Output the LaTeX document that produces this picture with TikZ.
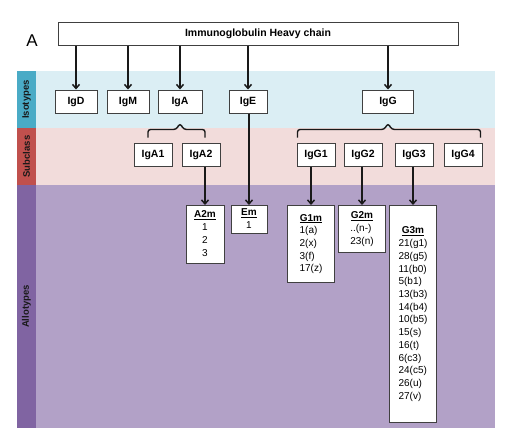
\documentclass[tikz,border=0pt]{standalone}
\usepackage{fontspec}
\setmainfont{Liberation Sans}
\usepackage{tikz}
\usetikzlibrary{arrows.meta,positioning,calc}
\definecolor{bandblue}{RGB}{219,238,244}
\definecolor{stripblue}{RGB}{74,171,198}
\definecolor{bandpink}{RGB}{242,220,219}
\definecolor{stripred}{RGB}{192,80,77}
\definecolor{bandpurple}{RGB}{178,161,199}
\definecolor{strippurple}{RGB}{128,100,162}
\definecolor{edgegray}{RGB}{64,64,64}
\newcommand{\allohead}[1]{\multicolumn{1}{@{}c@{}}{\underline{\textbf{#1}}}}
\tikzset{
  igbox/.style  ={rectangle, draw=edgegray, fill=white, line width=1pt,
                  minimum height=23pt, inner sep=2pt, font=\fontsize{10.5}{12}\selectfont\bfseries},
  allobox/.style={rectangle, draw=edgegray, fill=white, line width=1pt, anchor=north,
                  inner sep=1pt, font=\fontsize{10}{12.7}\selectfont},
  strip/.style  ={rectangle, rotate=90, minimum height=19pt, inner sep=0pt,
                  text=black!90, font=\fontsize{9.5}{11}\selectfont\bfseries},
  flow/.style   ={-{Straight Barb[length=4pt,width=7pt]}, line width=1.5pt, draw=black!90},
  bracket/.style={line width=1.4pt, draw=black!90, rounded corners=2.5pt}
}
\begin{document}
\begin{tikzpicture}[x=1pt, y=-1pt]
\useasboundingbox (0,0) rectangle (510,445);
% bands
\fill[bandblue]   (36,71)  rectangle (495,128);
\fill[bandpink]   (36,128) rectangle (495,185);
\fill[bandpurple] (36,185) rectangle (495,428);
\node[strip, fill=stripblue,   minimum width=57pt]  (lisotype) at (26.5,99.5)  {Isotypes};
\node[strip, fill=stripred,    minimum width=57pt]  (lsubclass) at (26.5,156.5) {Subclass};
\node[strip, fill=strippurple, minimum width=243pt] (lallotype) at (26.5,306.5) {Allotypes};

\node[font=\fontsize{17}{20}\selectfont] (panel) at (32,41) {A};
\node[igbox, minimum width=400pt] (heavy) at (258,33.5) {Immunoglobulin Heavy chain};

% isotypes
\node[igbox, minimum width=42pt] (IgD) at (76,101.5) {IgD};
\node[igbox, minimum width=42pt, right=9pt of IgD] (IgM) {IgM};
\node[igbox, minimum width=44pt, right=8pt of IgM] (IgA) {IgA};
\node[igbox, minimum width=38pt] (IgE) at (248,101.5) {IgE};
\node[igbox, minimum width=51pt] (IgG) at (388,101.5) {IgG};
\foreach \iso in {IgD,IgM,IgA,IgE,IgG}
  \draw[flow] (heavy.south -| \iso.north) -- (\iso.north);

% subclasses
\node[igbox, minimum width=38pt] (IgA1) at (153,154.5) {IgA1};
\node[igbox, minimum width=38pt, right=9pt of IgA1] (IgA2) {IgA2};
\node[igbox, minimum width=38pt] (IgG1) at (316,154.5) {IgG1};
\node[igbox, minimum width=38pt, right=8pt of IgG1] (IgG2) {IgG2};
\node[igbox, minimum width=38pt, right=12pt of IgG2] (IgG3) {IgG3};
\node[igbox, minimum width=38pt, right=10pt of IgG3] (IgG4) {IgG4};
\draw[bracket] ($(IgA1.north)+(-5,-5)$) |- ($(IgA.south)+(-4,16)$) -- ($(IgA.south)+(0,10)$)
  -- ($(IgA.south)+(4,16)$) -| ($(IgA2.north)+(4,-5)$);
\draw[bracket] ($(IgG1.north west)+(1,-5)$) |- ($(IgG.south)+(-4,16)$) -- ($(IgG.south)+(0,10)$)
  -- ($(IgG.south)+(4,16)$) -| ($(IgG4.north east)+(-2,-5)$);

% allotypes
\node[allobox, minimum width=38pt, minimum height=58pt] (A2m) at (205,205)
  {\begin{tabular}{@{}c@{}}\allohead{A2m}\\1\\2\\3\end{tabular}};
\node[allobox, minimum width=36pt, minimum height=28pt] (Em) at (249,205)
  {\begin{tabular}{@{}c@{}}\allohead{Em}\\1\end{tabular}};
\node[allobox, minimum width=47pt, minimum height=77pt] (G1m) at (311,205)
  {\begin{tabular}{@{}l@{}}\allohead{G1m}\\1(a)\\2(x)\\3(f)\\17(z)\end{tabular}};
\node[allobox, minimum width=47pt, minimum height=47pt] (G2m) at (362,205)
  {\begin{tabular}{@{}l@{}}\allohead{G2m}\\..(n-)\\23(n)\end{tabular}};
\node[allobox, minimum width=47pt, minimum height=217pt] (G3m) at (413,205)
  {\begin{tabular}{@{}l@{}}\allohead{G3m}\\21(g1)\\28(g5)\\11(b0)\\5(b1)\\13(b3)\\14(b4)\\10(b5)\\15(s)\\16(t)\\6(c3)\\24(c5)\\26(u)\\27(v)\end{tabular}};
\draw[flow] (A2m.north |- IgA2.south) -- (A2m.north);
\draw[flow] (Em.north |- IgE.south) -- (Em.north);
\draw[flow] (G1m.north |- IgG1.south) -- (G1m.north);
\draw[flow] (G2m.north |- IgG2.south) -- (G2m.north);
\draw[flow] (G3m.north |- IgG3.south) -- (G3m.north);
\end{tikzpicture}
\end{document}
